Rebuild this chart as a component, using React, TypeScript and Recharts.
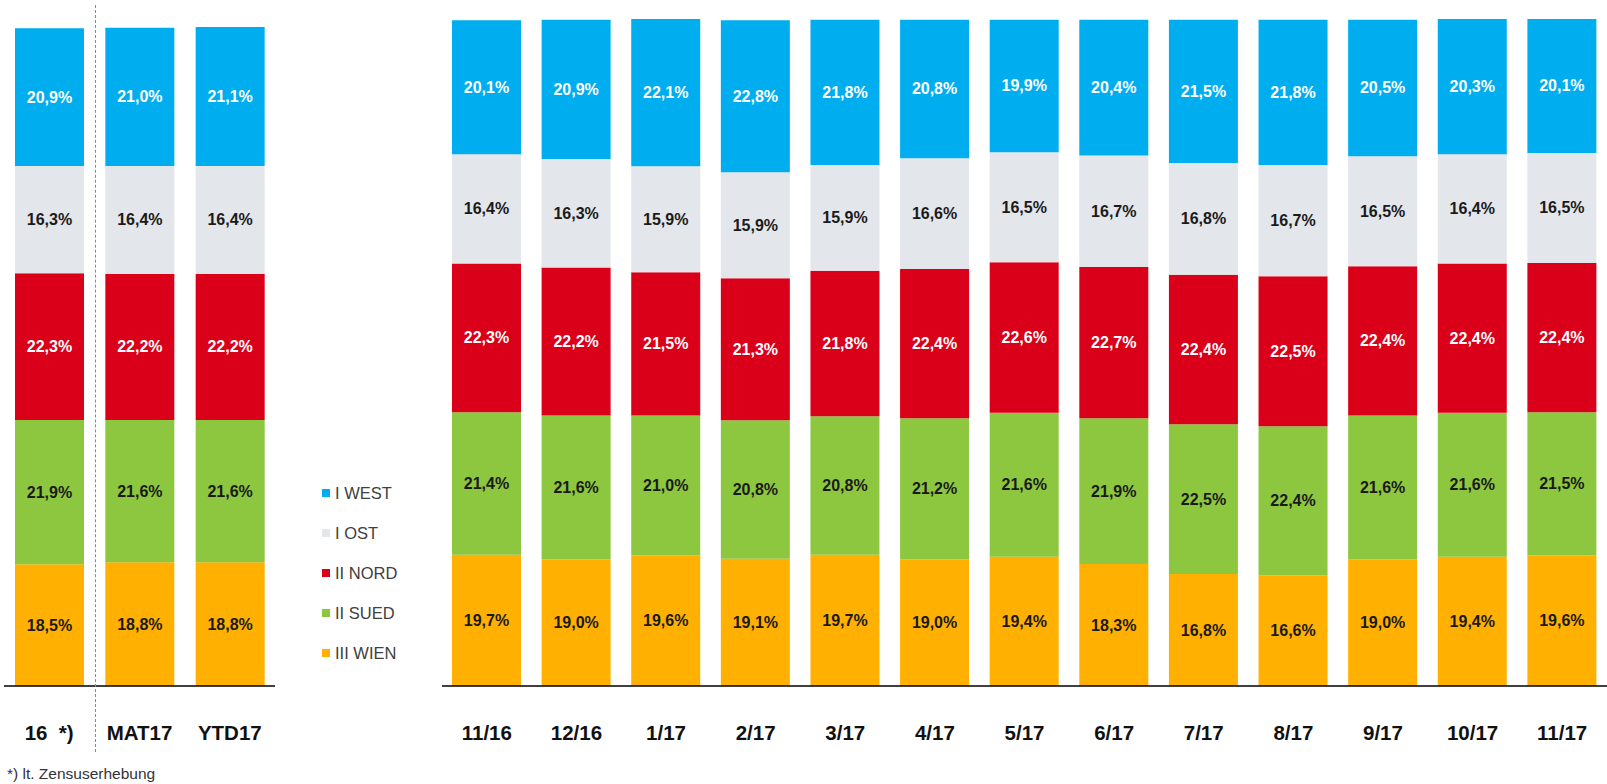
import React from 'react';
import { BarChart, Bar, XAxis, YAxis, LabelList } from 'recharts';

const leftCategories = ['16  *)', 'MAT17', 'YTD17'];
const leftWest = [20.9, 21.0, 21.1];
const leftOst = [16.3, 16.4, 16.4];
const leftNord = [22.3, 22.2, 22.2];
const leftSued = [21.9, 21.6, 21.6];
const leftWien = [18.5, 18.8, 18.8];

const months = ['11/16', '12/16', '1/17', '2/17', '3/17', '4/17', '5/17', '6/17', '7/17', '8/17', '9/17', '10/17', '11/17'];
const west = [20.1, 20.9, 22.1, 22.8, 21.8, 20.8, 19.9, 20.4, 21.5, 21.8, 20.5, 20.3, 20.1];
const ost = [16.4, 16.3, 15.9, 15.9, 15.9, 16.6, 16.5, 16.7, 16.8, 16.7, 16.5, 16.4, 16.5];
const nord = [22.3, 22.2, 21.5, 21.3, 21.8, 22.4, 22.6, 22.7, 22.4, 22.5, 22.4, 22.4, 22.4];
const sued = [21.4, 21.6, 21.0, 20.8, 20.8, 21.2, 21.6, 21.9, 22.5, 22.4, 21.6, 21.6, 21.5];
const wien = [19.7, 19.0, 19.6, 19.1, 19.7, 19.0, 19.4, 18.3, 16.8, 16.6, 19.0, 19.4, 19.6];

// stacking order, bottom to top
const series = [
  { key: 'wien', name: 'III WIEN', color: '#FFB000', labelColor: '#1a1a1a' },
  { key: 'sued', name: 'II SUED', color: '#8DC63F', labelColor: '#1a1a1a' },
  { key: 'nord', name: 'II NORD', color: '#DA0019', labelColor: '#ffffff' },
  { key: 'ost', name: 'I OST', color: '#E3E6EA', labelColor: '#1a1a1a' },
  { key: 'west', name: 'I WEST', color: '#00AEEF', labelColor: '#ffffff' },
];

const leftData = leftCategories.map((c, i) => ({
  cat: c, west: leftWest[i], ost: leftOst[i], nord: leftNord[i], sued: leftSued[i], wien: leftWien[i],
}));

const rightData = months.map((m, i) => ({
  cat: m, west: west[i], ost: ost[i], nord: nord[i], sued: sued[i], wien: wien[i],
}));

const FONT = '"Liberation Sans", Arial, sans-serif';

const fmt = (v: number) => v.toFixed(1).replace('.', ',') + '%';

const makeLabel = (color: string) => (props: any) => {
  const { x, y, width, height, value } = props;
  return (
    <text
      x={x + width / 2}
      y={y + height / 2}
      textAnchor="middle"
      dominantBaseline="central"
      fill={color}
      fontFamily={FONT}
      fontWeight="bold"
      fontSize={16}
    >
      {fmt(value)}
    </text>
  );
};

const CatTick = (props: any) => {
  const { x, y, payload } = props;
  return (
    <text
      x={x}
      y={y + 46}
      textAnchor="middle"
      fill="#111"
      fontFamily={FONT}
      fontWeight="bold"
      fontSize={20.5}
      style={{ whiteSpace: 'pre' }}
    >
      {payload.value}
    </text>
  );
};

const Stack: React.FC<{ data: any[]; width: number; top: number; left: number; right: number }> = ({ data, width, top, left, right }) => (
  <BarChart width={width} height={784} data={data} margin={{ top, bottom: 38, left, right }}>
    <XAxis
      dataKey="cat"
      height={60}
      tickLine={false}
      axisLine={{ stroke: '#000', strokeWidth: 1.5 }}
      tick={<CatTick />}
      interval={0}
    />
    <YAxis hide domain={[0, 100]} />
    {series.map((s) => (
      <Bar key={s.key} dataKey={s.key} stackId="a" fill={s.color} barSize={69} isAnimationActive={false}>
        <LabelList dataKey={s.key} content={makeLabel(s.labelColor)} />
      </Bar>
    ))}
  </BarChart>
);

export default function App() {
  const legendItems = [...series].reverse();
  return (
    <div style={{ position: 'absolute', left: 0, top: 0, width: 1607, height: 784, background: '#fff', fontFamily: FONT }}>
      <div style={{ position: 'absolute', left: 0, top: 0 }}>
        <Stack data={leftData} width={280} top={27} left={4} right={5} />
      </div>
      <div style={{ position: 'absolute', left: 430, top: 0 }}>
        <Stack data={rightData} width={1177} top={19} left={12} right={0} />
      </div>
      <div style={{ position: 'absolute', left: 95, top: 5, height: 747, borderLeft: '1px dashed #8a8a8a' }} />
      <div style={{ position: 'absolute', left: 322, top: 473 }}>
        {legendItems.map((s) => (
          <div key={s.key} style={{ display: 'flex', alignItems: 'center', height: 40, fontSize: 16.5, color: '#404040' }}>
            <span style={{ display: 'inline-block', width: 8, height: 8, background: s.color, marginRight: 5 }} />
            <span>{s.name}</span>
          </div>
        ))}
      </div>
      <div style={{ position: 'absolute', left: 7, top: 765, fontSize: 15.5, color: '#333' }}>*) lt. Zensuserhebung</div>
    </div>
  );
}
